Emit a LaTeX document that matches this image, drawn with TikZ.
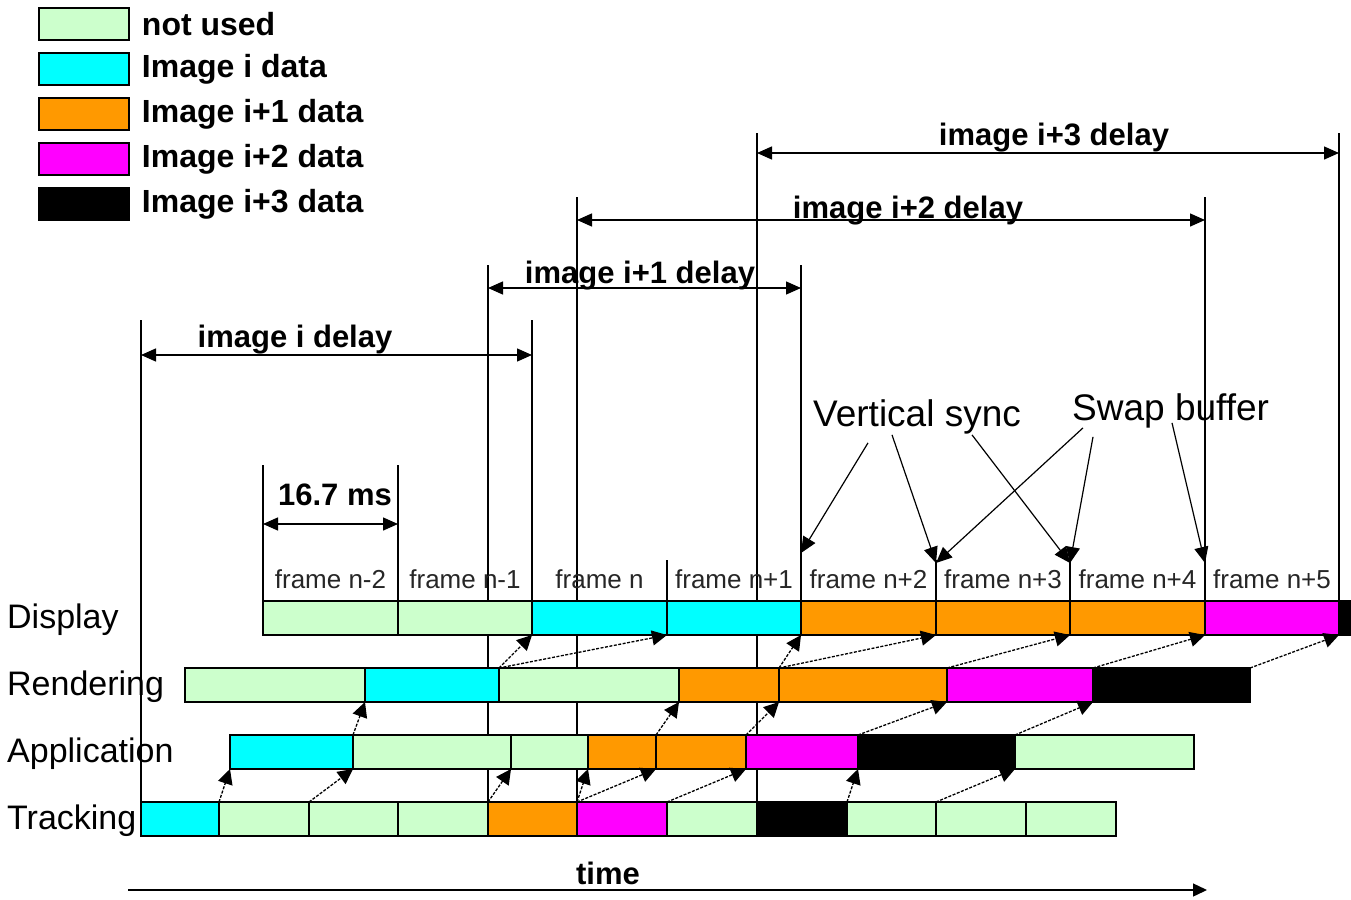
\documentclass[tikz,border=0pt]{standalone}
\usepackage{fontspec}
\setmainfont{Liberation Sans}
\usetikzlibrary{arrows.meta,backgrounds}
\definecolor{unused}{HTML}{CCFFCC}
\definecolor{imgi}{HTML}{00FFFF}
\definecolor{imgj}{HTML}{FF9900}
\definecolor{imgk}{HTML}{FF00FF}
\definecolor{imgl}{HTML}{000000}
\tikzset{
    seg/.style 2 args={draw, line width=1.5pt, anchor=west, inner sep=0pt, outer sep=0pt,
        minimum height=34pt, minimum width={#2pt-#1pt}},
    lgbox/.style={draw, line width=1.5pt, inner sep=0pt, minimum width=90pt, minimum height=32pt},
    boldtxt/.style={font=\fontsize{31}{31}\selectfont\bfseries, inner sep=0pt},
    lgtxt/.style={font=\fontsize{32}{32}\selectfont\bfseries, inner sep=0pt},
    frm/.style={font=\fontsize{26}{26}\selectfont, text=black!85, inner sep=0pt},
    rowlab/.style={font=\fontsize{34}{34}\selectfont, inner sep=0pt},
    note/.style={font=\fontsize{37}{37}\selectfont, inner sep=0pt},
    hop/.style={-{Triangle[length=15pt,width=15pt]}, dash pattern=on 3pt off 1.5pt, line width=1.3pt},
    dly/.style={{Triangle[length=15pt,width=13pt]}-{Triangle[length=15pt,width=13pt]}, line width=1.4pt},
    call/.style={-{Triangle[length=16pt,width=14pt]}, line width=1.2pt},
    guide/.style={line width=1.3pt}
}
\begin{document}
\begin{tikzpicture}[x=1pt,y=-1pt]
\useasboundingbox (0,0) rectangle (1351,899);
% legend
\foreach \c/\t [count=\i] in {unused/not used, imgi/Image i data, imgj/Image i+1 data, imgk/Image i+2 data, imgl/Image i+3 data}{
    \node[lgbox, fill=\c] (lg\i) at (84,{24+45*(\i-1)}) {};
    \node[lgtxt, anchor=west] (lgt\i) at ([xshift=12pt]lg\i.east) {\t};
}
% rows
\node[rowlab, anchor=base west] (dlab) at (7,628) {Display};
\node[rowlab, anchor=base west] (rlab) at (7,695) {Rendering};
\node[rowlab, anchor=base west] (alab) at (7,762) {Application};
\node[rowlab, anchor=base west] (tlab) at (7,829) {Tracking};
\foreach \s/\e/\c [count=\i] in {263/398/unused, 398/532/unused, 532/667/imgi, 667/801/imgi, 801/936/imgj, 936/1070/imgj, 1070/1205/imgj, 1205/1339/imgk, 1339/1352/imgl}
    \node[seg={\s}{\e}, fill=\c] (disp\i) at (\s,618) {};
\foreach \s/\e/\c [count=\i] in {185/365/unused, 365/499/imgi, 499/679/unused, 679/779/imgj, 779/947/imgj, 947/1093/imgk, 1093/1250/imgl}
    \node[seg={\s}{\e}, fill=\c] (rend\i) at (\s,685) {};
\foreach \s/\e/\c [count=\i] in {230/353/imgi, 353/511/unused, 511/588/unused, 588/656/imgj, 656/746/imgj, 746/858/imgk, 858/1015/imgl, 1015/1194/unused}
    \node[seg={\s}{\e}, fill=\c] (app\i) at (\s,752) {};
\foreach \s/\e/\c [count=\i] in {141/219/imgi, 219/309/unused, 309/398/unused, 398/488/unused, 488/577/imgj, 577/667/imgk, 667/757/unused, 757/847/imgl, 847/936/unused, 936/1026/unused, 1026/1116/unused}
    \node[seg={\s}{\e}, fill=\c] (trk\i) at (\s,819) {};
% frame labels
\foreach \t [count=\i] in {n-2,n-1,n,n+1,n+2,n+3,n+4,n+5}
    \node[frm, anchor=base] (fr\i) at ([yshift=13pt]disp\i.north) {frame \t};
% guide lines behind the bars
\begin{scope}[on background layer]
    \draw[guide] (trk1.north west) -- ++(0,-482) coordinate (a0);
    \draw[guide] (disp2.north east) -- ++(0,-281) coordinate (b0);
    \draw[guide] (trk4.north east) -- ++(0,-537) coordinate (a1);
    \draw[guide] (disp4.north east) -- ++(0,-336) coordinate (b1);
    \draw[guide] (trk5.north east) -- ++(0,-605) coordinate (a2);
    \draw[guide] (disp7.north east) -- ++(0,-404) coordinate (b2);
    \draw[guide] (trk7.north east) -- ++(0,-669) coordinate (a3);
    \draw[guide] (disp8.north east) -- ++(0,-468) coordinate (b3);
    \draw[guide] (disp1.north west) -- ++(0,-136) coordinate (m0);
    \draw[guide] (disp1.north east) -- ++(0,-136) coordinate (m1);
    \foreach \i in {3,5,6}
        \draw[guide] (disp\i.north east) -- ++(0,-41);
\end{scope}
% delays
\draw[dly] ([yshift=-35pt]a0) -- ([yshift=-35pt]b0);
\draw[dly] ([yshift=-23pt]a1) -- ([yshift=-23pt]b1);
\draw[dly] ([yshift=-23pt]a2) -- ([yshift=-23pt]b2);
\draw[dly] ([yshift=-20pt]a3) -- ([yshift=-20pt]b3);
\draw[dly] ([yshift=-59pt]m0) -- ([yshift=-59pt]m1);
\node[boldtxt, anchor=base] (d0) at (295,347) {image i delay};
\node[boldtxt, anchor=base] (d1) at (640,283) {image i+1 delay};
\node[boldtxt, anchor=base] (d2) at (908,218) {image i+2 delay};
\node[boldtxt, anchor=base] (d3) at (1054,145) {image i+3 delay};
\node[boldtxt, anchor=base] (ms) at (335,505) {16.7 ms};
% data hops
\draw[hop] (trk2.north west) -- (app1.south west);
\draw[hop] (trk3.north west) -- (app1.south east);
\draw[hop] (trk5.north west) -- (app2.south east);
\draw[hop] (trk6.north west) -- (app3.south east);
\draw[hop] (trk6.north west) -- (app4.south east);
\draw[hop] (trk7.north west) -- (app5.south east);
\draw[hop] (trk9.north west) -- (app6.south east);
\draw[hop] (trk10.north west) -- (app7.south east);
\draw[hop] (app1.north east) -- (rend1.south east);
\draw[hop] (app4.north east) -- (rend3.south east);
\draw[hop] (app5.north east) -- (rend4.south east);
\draw[hop] (app6.north east) -- (rend5.south east);
\draw[hop] (app7.north east) -- (rend6.south east);
\draw[hop] (rend2.north east) -- (disp2.south east);
\draw[hop] (rend2.north east) -- (disp3.south east);
\draw[hop] (rend4.north east) -- (disp4.south east);
\draw[hop] (rend4.north east) -- (disp5.south east);
\draw[hop] (rend5.north east) -- (disp6.south east);
\draw[hop] (rend6.north east) -- (disp7.south east);
\draw[hop] (rend7.north east) -- (disp8.south east);
% callouts
\node[note, anchor=base west] (vs) at (813,426) {Vertical sync};
\node[note, anchor=base west] (sb) at (1072,420) {Swap buffer};
\draw[call] ([shift={(55,9)}]vs.south west) -- ([yshift=48pt]disp5.north west);
\draw[call] ([shift={(79,1)}]vs.south west) -- ([yshift=38pt]disp6.north west);
\draw[call] ([shift={(159,1)}]vs.south west) -- ([yshift=38pt]disp7.north west);
\draw[call] ([shift={(11,0)}]sb.south west) -- ([yshift=38pt]disp6.north west);
\draw[call] ([shift={(21,9)}]sb.south west) -- ([yshift=38pt]disp7.north west);
\draw[call] ([shift={(100,-5)}]sb.south west) -- ([yshift=38pt]disp8.north west);
% time axis
\coordinate (t0) at (128,890);
\coordinate (t1) at (1207,890);
\draw[-{Triangle[length=14pt,width=13pt]}, line width=1.4pt] (t0) -- (t1);
\node[boldtxt, anchor=base] (tm) at (608,884) {time};
\end{tikzpicture}
\end{document}
